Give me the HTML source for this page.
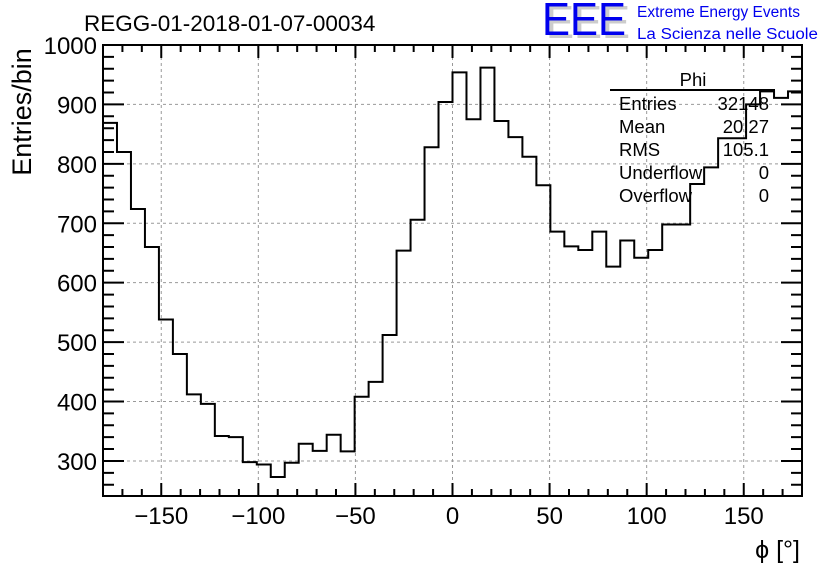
<!DOCTYPE html>
<html><head><meta charset="utf-8"><style>
html,body{margin:0;padding:0;background:#fff;}
svg{display:block;font-family:"Liberation Sans",sans-serif;}
</style></head><body>
<svg id="c" width="836" height="572" viewBox="0 0 836 572">
<rect x="0" y="0" width="836" height="572" fill="#fff"/>
<text x="84" y="31" font-size="22.5">REGG-01-2018-01-07-00034</text>
<g>
<text x="546" y="38" font-size="46" fill="#ccc" textLength="84" lengthAdjust="spacingAndGlyphs">EEE</text>
<text x="542" y="35" font-size="46" fill="#0000ee" textLength="84" lengthAdjust="spacingAndGlyphs">EEE</text>
<text x="637" y="17" font-size="15.5" fill="#0000ee" textLength="163" lengthAdjust="spacingAndGlyphs">Extreme Energy Events</text>
<text x="637" y="39" font-size="15.5" fill="#0000ee" textLength="181" lengthAdjust="spacingAndGlyphs">La Scienza nelle Scuole</text>
</g>
<g id="grid"></g>
<g id="axes"></g>
<path id="hist" fill="none" stroke="#000" stroke-width="2"/>
<g>
<line x1="610" y1="90" x2="775" y2="90" stroke="#000" stroke-width="2"/>
<text x="693" y="86" font-size="18.5" text-anchor="middle">Phi</text>
<text x="619" y="110" font-size="18.5">Entries</text><text x="769" y="110" font-size="18.5" text-anchor="end">32148</text>
<text x="619" y="133" font-size="18.5">Mean</text><text x="769" y="133" font-size="18.5" text-anchor="end">20.27</text>
<text x="619" y="156" font-size="18.5">RMS</text><text x="769" y="156" font-size="18.5" text-anchor="end">105.1</text>
<text x="619" y="179" font-size="18.5">Underflow</text><text x="769" y="179" font-size="18.5" text-anchor="end">0</text>
<text x="619" y="202" font-size="18.5">Overflow</text><text x="769" y="202" font-size="18.5" text-anchor="end">0</text>
</g>
<text x="22" y="112" font-size="27" text-anchor="middle" transform="rotate(-90 22 112)" dy="9">Entries/bin</text>
<text x="800" y="558" font-size="25" text-anchor="end">ϕ [°]</text>
</svg>
<script>
const counts = [869,820,724,660,538,480,412,396,342,340,298,294,273,297,329,317,344,316,408,433,512,654,706,828,904,954,875,962,872,845,812,764,686,661,655,686,627,671,642,655,698,698,766,794,843,843,900,922,911,922];
const xTicks = [-150,-100,-50,0,50,100,150];
const yTicks = [300,400,500,600,700,800,900,1000];
const xMin=-180, xMax=180, yMin=241, yMax=1000;
const L=103, R=802, T=45, B=496;
const NS="http://www.w3.org/2000/svg";
function sx(v){return L+(v-xMin)/(xMax-xMin)*(R-L);}
function sy(v){return B-(v-yMin)/(yMax-yMin)*(B-T);}
function mk(tag,attrs,parent){const e=document.createElementNS(NS,tag);for(const k in attrs)e.setAttribute(k,attrs[k]);parent.appendChild(e);return e;}
const grid=document.getElementById('grid'), axes=document.getElementById('axes');
xTicks.forEach(v=>{
 const g=mk('line',{x1:sx(v),x2:sx(v),y1:T,y2:B,stroke:'#999','stroke-dasharray':'3,3','stroke-width':1},grid);
 
 
 const t=mk('text',{x:sx(v),y:524,'font-size':24,'text-anchor':'middle'},axes);
 t.textContent=v===0?'0':(v<0?'\u2212'+(-v):String(v));
 
 
});
yTicks.forEach(v=>{
 const g=mk('line',{x1:L,x2:R,y1:sy(v),y2:sy(v),stroke:'#999','stroke-dasharray':'3,3','stroke-width':1},grid);
 
 
 const t=mk('text',{x:97,y:sy(v)+9,'font-size':24,'text-anchor':'end'},axes);
 t.textContent=String(v);
 
 
});
let tk='';
for(let v=-180;v<=180;v+=10){const x=sx(v);const len=(v%50===0)?13:7;tk+=`M${x},${B}v${-len}M${x},${T}v${len}`;}
for(let v=260;v<=1000;v+=20){const y=sy(v);const len=(v%100===0)?21:11;tk+=`M${L},${y}h${len}M${R},${y}h${-len}`;}
const tp=mk('path',{d:tk,stroke:'#000','stroke-width':2,fill:'none'},axes);


const fr=mk('rect',{x:L,y:T,width:R-L,height:B-T,fill:'none',stroke:'#000','stroke-width':2},axes);


const w=(xMax-xMin)/counts.length;
let d='';
counts.forEach((c,i)=>{const x0=sx(xMin+i*w),x1=sx(xMin+(i+1)*w),y=sy(c);d+=(i===0?`M${x0},${y}`:`V${y}`)+`H${x1}`;});
document.getElementById('hist').setAttribute('d',d);
</script>
</body></html>
